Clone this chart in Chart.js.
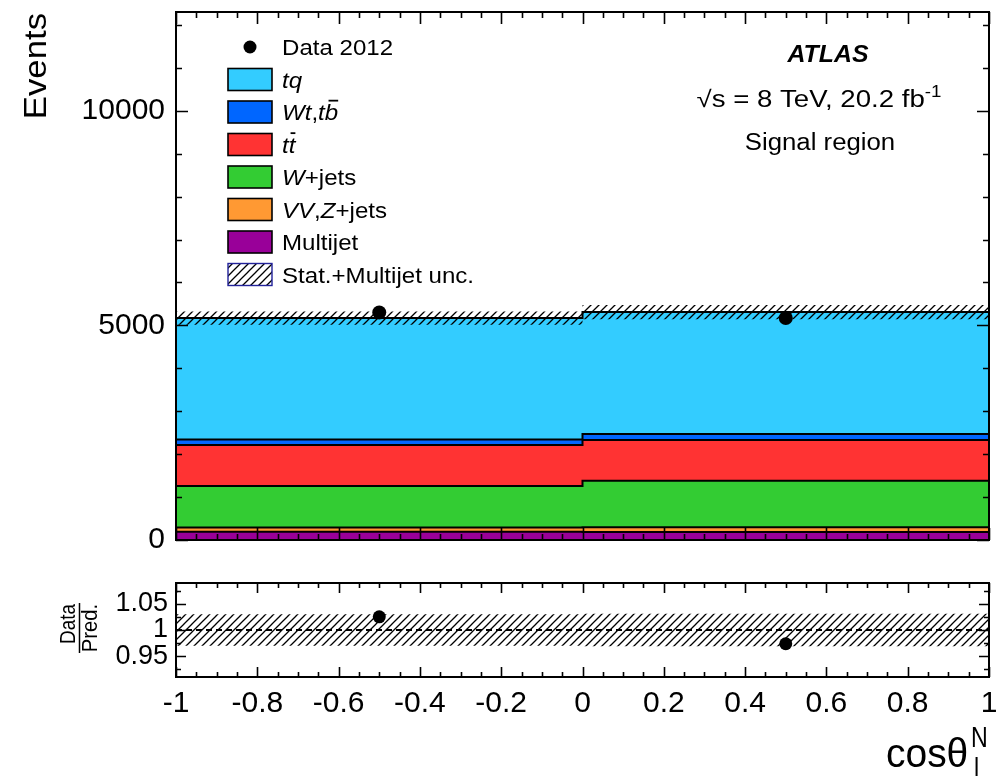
<!DOCTYPE html>
<html>
<head>
<meta charset="utf-8">
<script src="https://cdn.jsdelivr.net/npm/chart.js@4.4.1/dist/chart.umd.min.js"></script>
<style>
  html, body { margin: 0; padding: 0; background: #fff; }
  #wrap { position: relative; width: 998px; height: 776px; overflow: hidden; background: #fff; }
  #main { position: absolute; left: 0; top: 0; }
  #ratio { position: absolute; left: 0; top: 560px; }
</style>
</head>
<body>
<div id="wrap">
  <canvas id="main" width="998" height="560"></canvas>
  <canvas id="ratio" width="998" height="216"></canvas>
</div>
<script>
// ---- histogram contents: two bins in cos(theta_l^N) ----
const binEdges = [-1, 0, 1];
const multijet = [195, 185];
const vvZjets  = [95, 110];
const wjets    = [970, 1085];
const ttbar    = [955, 950];
const wtTb     = [125, 140];
const tq       = [2830, 2840];
const data2012 = [5300, 5170];
const totalUnc = [155, 165];          // stat. + multijet uncertainty on the prediction (events)

// ---- axis tick values ----
const eventTicks = [0, 5000, 10000];
const ratioTicks = [0.95, 1, 1.05];
const xTicks = [-1, -0.8, -0.6, -0.4, -0.2, 0, 0.2, 0.4, 0.6, 0.8, 1];

const FONT = '"Liberation Sans", Arial, Helvetica, sans-serif';

// stacked components, bottom to top
const components = [
  { label: 'Multijet',  values: multijet, color: '#990099' },
  { label: 'VV,Z+jets', values: vvZjets,  color: '#ff9933' },
  { label: 'W+jets',    values: wjets,    color: '#33cc33' },
  { label: 'ttbar',     values: ttbar,    color: '#ff3333' },
  { label: 'Wt,tb',     values: wtTb,     color: '#0066ff' },
  { label: 'tq',        values: tq,       color: '#33ccff' }
];

const nBins = binEdges.length - 1;
const centers = [];
for (let i = 0; i < nBins; i++) centers.push((binEdges[i] + binEdges[i + 1]) / 2);

// running sums give the top edge of each stacked component
const cumulative = [];
let running = new Array(nBins).fill(0);
components.forEach(c => {
  running = running.map((v, i) => v + c.values[i]);
  cumulative.push(running.slice());
});
const prediction = cumulative[cumulative.length - 1];

// step outline of a histogram: one point per lower bin edge plus the last edge;
// drawn with stepped 'before' so each level holds until the next edge
function stepPoints(vals) {
  const pts = [];
  for (let i = 0; i < nBins; i++) pts.push({ x: binEdges[i], y: vals[i] });
  pts.push({ x: binEdges[nBins], y: vals[nBins - 1] });
  return pts;
}
const STEP = 'before';

function hatchPattern(ctx, step, lw) {
  const c = document.createElement('canvas');
  c.width = step; c.height = step;
  const g = c.getContext('2d');
  g.strokeStyle = '#000';
  g.lineWidth = lw;
  g.beginPath();
  g.moveTo(-1, step + 1); g.lineTo(step + 1, -1);
  g.moveTo(-step / 2 - 1, step / 2 + 1); g.lineTo(step / 2 + 1, -step / 2 - 1);
  g.moveTo(step / 2 - 1, step * 1.5 + 1); g.lineTo(step * 1.5 + 1, step / 2 - 1);
  g.stroke();
  return ctx.createPattern(c, 'repeat');
}

// rich text: parts = [{t, f, over, sup}]
function drawParts(ctx, parts, x, y, o) {
  const size = o.size, sx = o.sx || 1;
  ctx.save();
  ctx.fillStyle = '#000';
  ctx.strokeStyle = '#000';
  ctx.textBaseline = 'alphabetic';
  ctx.textAlign = 'left';
  const widths = [];
  let w = 0;
  parts.forEach(p => {
    const fs = p.sup ? size * 0.68 : size;
    ctx.font = `${p.f || ''} ${fs}px ${FONT}`;
    const m = ctx.measureText(p.t).width;
    widths.push(m); w += m;
  });
  let x0 = x;
  if (o.align === 'center') x0 = x - w * sx / 2;
  else if (o.align === 'right') x0 = x - w * sx;
  ctx.translate(x0, y);
  ctx.scale(sx, 1);
  let cx = 0;
  parts.forEach((p, i) => {
    const fs = p.sup ? size * 0.68 : size;
    ctx.font = `${p.f || ''} ${fs}px ${FONT}`;
    const dy = p.sup ? -size * 0.42 : 0;
    ctx.fillText(p.t, cx, dy);
    if (p.over) {
      ctx.lineWidth = size * 0.08;
      ctx.beginPath();
      ctx.moveTo(cx + widths[i] * 0.28, -size * 0.86);
      ctx.lineTo(cx + widths[i] * 1.0, -size * 0.86);
      ctx.stroke();
    }
    cx += widths[i];
  });
  ctx.restore();
}

// rotated text reading bottom-to-top; (x, y) is the baseline anchor
function drawVertical(ctx, text, x, y, size, along, align) {
  ctx.save();
  ctx.fillStyle = '#000';
  ctx.font = `${size}px ${FONT}`;
  ctx.translate(x, y);
  ctx.rotate(-Math.PI / 2);
  ctx.scale(along, 1);
  ctx.textAlign = align;
  ctx.textBaseline = 'alphabetic';
  ctx.fillText(text, 0, 0);
  ctx.restore();
}

// frame plus inward ticks on all four sides
function framePlugin(cfg) {
  return {
    id: 'frameTicks',
    afterDatasetsDraw(chart) {
      const { ctx, chartArea: a, scales } = chart;
      const xs = scales.x, ys = scales.y;
      ctx.save();
      ctx.strokeStyle = '#000';
      ctx.lineWidth = 1.6;
      ctx.beginPath();
      const tick = (vals, len, axis) => {
        vals.forEach(v => {
          if (axis === 'x') {
            const px = Math.round(xs.getPixelForValue(v)) + 0.5;
            ctx.moveTo(px, a.bottom); ctx.lineTo(px, a.bottom - len);
            ctx.moveTo(px, a.top); ctx.lineTo(px, a.top + len);
          } else {
            const py = Math.round(ys.getPixelForValue(v)) + 0.5;
            ctx.moveTo(a.left, py); ctx.lineTo(a.left + len, py);
            ctx.moveTo(a.right, py); ctx.lineTo(a.right - len, py);
          }
        });
      };
      const minorVals = (min, max, step) => {
        const out = [];
        const n = Math.round((max - min) / step);
        for (let k = 0; k <= n; k++) out.push(min + k * step);
        return out;
      };
      tick(minorVals(cfg.xMin, cfg.xMax, cfg.xMinor), cfg.xMinorLen, 'x');
      tick(cfg.xMajor, cfg.xMajorLen, 'x');
      tick(minorVals(cfg.yMinorStart, cfg.yMinorEnd, cfg.yMinor), cfg.yMinorLen, 'y');
      tick(cfg.yMajor, cfg.yMajorLen, 'y');
      ctx.stroke();
      ctx.lineWidth = 2;
      ctx.strokeRect(a.left, a.top, a.right - a.left, a.bottom - a.top);
      ctx.restore();
    }
  };
}

// fixed-width vertical axis that does not reserve room for overhanging labels
function fixedYFit(s) {
  s.width = 176;
  s.paddingTop = 0;
  s.paddingBottom = 0;
}
const hiddenGrid = { display: false, drawTicks: false, tickLength: 0 };

// ---------------- main panel ----------------
const mainCtx = document.getElementById('main').getContext('2d');
const mainHatch = hatchPattern(mainCtx, 8, 1.3);

const mainDatasets = [];
components.forEach((c, i) => {
  mainDatasets.push({
    type: 'line',
    label: c.label,
    data: stepPoints(cumulative[i]),
    stepped: STEP,
    borderColor: '#000',
    borderWidth: 2,
    backgroundColor: c.color,
    pointRadius: 0,
    fill: i === 0 ? 'origin' : i - 1,
    order: 10 + i
  });
});
const bandLowIndex = mainDatasets.length;
mainDatasets.push({
  type: 'line', label: 'unc-low',
  data: stepPoints(prediction.map((p, i) => p - totalUnc[i])),
  stepped: STEP, borderWidth: 0, borderColor: 'rgba(0,0,0,0)', pointRadius: 0,
  fill: false, order: 3
});
mainDatasets.push({
  type: 'line', label: 'Stat.+Multijet unc.',
  data: stepPoints(prediction.map((p, i) => p + totalUnc[i])),
  stepped: STEP, borderWidth: 0, borderColor: 'rgba(0,0,0,0)', pointRadius: 0,
  backgroundColor: mainHatch, fill: bandLowIndex, order: 2
});
mainDatasets.push({
  type: 'line', label: 'Data 2012',
  data: centers.map((x, i) => ({ x, y: data2012[i] })),
  showLine: false, pointRadius: 7, pointBackgroundColor: '#000', pointBorderWidth: 0,
  order: 0
});

const legendEntries = [
  { kind: 'marker', parts: [{ t: 'Data 2012' }] },
  { kind: 'box', color: components[5].color, parts: [{ t: 'tq', f: 'italic' }] },
  { kind: 'box', color: components[4].color, parts: [{ t: 'Wt', f: 'italic' }, { t: ',' }, { t: 't', f: 'italic' }, { t: 'b', f: 'italic', over: true }] },
  { kind: 'box', color: components[3].color, parts: [{ t: 't', f: 'italic' }, { t: 't', f: 'italic', over: true }] },
  { kind: 'box', color: components[2].color, parts: [{ t: 'W', f: 'italic' }, { t: '+jets' }] },
  { kind: 'box', color: components[1].color, parts: [{ t: 'VV', f: 'italic' }, { t: ',' }, { t: 'Z', f: 'italic' }, { t: '+jets' }] },
  { kind: 'box', color: components[0].color, parts: [{ t: 'Multijet' }] },
  { kind: 'hatch', parts: [{ t: 'Stat.+Multijet unc.' }] }
];

const mainDecor = {
  id: 'mainDecor',
  afterDraw(chart) {
    const ctx = chart.ctx;
    // legend
    const rowY0 = 47, rowDy = 32.5;
    legendEntries.forEach((e, i) => {
      const cy = rowY0 + i * rowDy;
      ctx.save();
      if (e.kind === 'marker') {
        ctx.fillStyle = '#000';
        ctx.beginPath(); ctx.arc(250, cy, 6.5, 0, Math.PI * 2); ctx.fill();
      } else if (e.kind === 'box') {
        ctx.fillStyle = e.color;
        ctx.fillRect(228, cy - 11, 44, 22);
        ctx.strokeStyle = '#000'; ctx.lineWidth = 1.6;
        ctx.strokeRect(228, cy - 11, 44, 22);
      } else {
        ctx.fillStyle = mainHatch;
        ctx.fillRect(228, cy - 11, 44, 22);
        ctx.strokeStyle = '#22229a'; ctx.lineWidth = 1.4;
        ctx.strokeRect(228, cy - 11, 44, 22);
      }
      ctx.restore();
      drawParts(ctx, e.parts, 282, cy + 8, { size: 22.5, sx: 1.07 });
    });
    // labels in the upper right
    drawParts(ctx, [{ t: 'ATLAS', f: 'italic bold' }], 828, 62, { size: 23, align: 'center', sx: 1.08 });
    drawParts(ctx, [{ t: '\u221As = 8 TeV, 20.2 fb' }, { t: '-1', sup: true }], 819, 107, { size: 23, align: 'center', sx: 1.2 });
    drawParts(ctx, [{ t: 'Signal region' }], 820, 150, { size: 23, align: 'center', sx: 1.12 });
    // y-axis title
    drawVertical(ctx, 'Events', 46, 13, 31, 1.12, 'right');
  }
};

new Chart(mainCtx, {
  type: 'line',
  data: { datasets: mainDatasets },
  options: {
    responsive: false,
    animation: false,
    devicePixelRatio: 1,
    layout: { padding: { left: 0, right: 9, top: 12, bottom: 20 } },
    plugins: {
      legend: { display: false },
      tooltip: { enabled: false },
      filler: { drawTime: 'beforeDatasetsDraw' }
    },
    scales: {
      x: { type: 'linear', min: -1, max: 1, display: false },
      y: {
        type: 'linear', min: 0, max: 12300,
        grid: hiddenGrid, border: { display: false },
        afterFit: fixedYFit,
        afterBuildTicks(s) { s.ticks = eventTicks.map(v => ({ value: v })); },
        ticks: { color: '#000', padding: 11, font: { family: FONT, size: 30 }, callback: v => String(v) }
      }
    }
  },
  plugins: [mainDecor, framePlugin({
    xMin: -1, xMax: 1, xMinor: 0.05, xMajor: xTicks, xMinorLen: 6, xMajorLen: 12,
    yMinorStart: 0, yMinorEnd: 12000, yMinor: 1000, yMajor: eventTicks, yMinorLen: 6, yMajorLen: 12
  })]
});

// ---------------- ratio panel ----------------
const ratioCtx = document.getElementById('ratio').getContext('2d');
const ratioHatch = hatchPattern(ratioCtx, 8, 1.3);
const relUnc = prediction.map((p, i) => totalUnc[i] / p);
const ratioValues = data2012.map((d, i) => d / prediction[i]);

const ratioDatasets = [
  {
    type: 'line', label: 'unc-low',
    data: stepPoints(relUnc.map(r => 1 - r)),
    stepped: STEP, borderWidth: 0, borderColor: 'rgba(0,0,0,0)', pointRadius: 0,
    fill: false, order: 4
  },
  {
    type: 'line', label: 'unc-high',
    data: stepPoints(relUnc.map(r => 1 + r)),
    stepped: STEP, borderWidth: 0, borderColor: 'rgba(0,0,0,0)', pointRadius: 0,
    backgroundColor: ratioHatch, fill: 0, order: 3
  },
  {
    type: 'line', label: 'unity',
    data: [{ x: binEdges[0], y: 1 }, { x: binEdges[nBins], y: 1 }],
    borderColor: '#000', borderWidth: 2, borderDash: [6, 4], pointRadius: 0, fill: false, order: 1
  },
  {
    type: 'line', label: 'Data/Pred.',
    data: centers.map((x, i) => ({ x, y: ratioValues[i] })),
    showLine: false, pointRadius: 6.5, pointBackgroundColor: '#000', pointBorderWidth: 0, order: 0
  }
];

const ratioDecor = {
  id: 'ratioDecor',
  afterDraw(chart) {
    const ctx = chart.ctx;
    // Data / Pred. fraction, rotated (canvas starts at page y = 560)
    drawVertical(ctx, 'Data', 75, 624 - 560, 22, 0.86, 'center');
    ctx.save();
    ctx.strokeStyle = '#000'; ctx.lineWidth = 1.5;
    ctx.beginPath(); ctx.moveTo(79.5, 603 - 560); ctx.lineTo(79.5, 653 - 560); ctx.stroke();
    ctx.restore();
    drawVertical(ctx, 'Pred.', 97, 628 - 560, 22, 0.92, 'center');
    // x-axis title
    drawParts(ctx, [{ t: 'cos\u03B8' }], 886, 767 - 560, { size: 41, sx: 0.95 });
    drawParts(ctx, [{ t: 'N' }], 971, 747 - 560, { size: 29, sx: 0.8 });
    drawParts(ctx, [{ t: 'l' }], 974, 779 - 560, { size: 29, sx: 0.8 });
  }
};

new Chart(ratioCtx, {
  type: 'line',
  data: { datasets: ratioDatasets },
  options: {
    responsive: false,
    animation: false,
    devicePixelRatio: 1,
    layout: { padding: { left: 0, right: 9, top: 23, bottom: 0 } },
    plugins: {
      legend: { display: false },
      tooltip: { enabled: false },
      filler: { drawTime: 'beforeDatasetsDraw' }
    },
    scales: {
      x: {
        type: 'linear', min: -1, max: 1,
        grid: hiddenGrid, border: { display: false },
        afterFit(s) { s.height = 99; s.paddingLeft = 0; s.paddingRight = 0; },
        afterBuildTicks(s) { s.ticks = xTicks.map(v => ({ value: v })); },
        ticks: { color: '#000', padding: 9, autoSkip: false, maxRotation: 0, font: { family: FONT, size: 30 }, callback: v => String(v) }
      },
      y: {
        type: 'linear', min: 0.91, max: 1.09,
        grid: hiddenGrid, border: { display: false },
        afterFit: fixedYFit,
        afterBuildTicks(s) { s.ticks = ratioTicks.map(v => ({ value: v })); },
        ticks: { color: '#000', padding: 8, font: { family: FONT, size: 27 }, callback: v => String(v) }
      }
    }
  },
  plugins: [ratioDecor, framePlugin({
    xMin: -1, xMax: 1, xMinor: 0.05, xMajor: xTicks, xMinorLen: 5, xMajorLen: 10,
    yMinorStart: 0.925, yMinorEnd: 1.075, yMinor: 0.025, yMajor: ratioTicks, yMinorLen: 5, yMajorLen: 10
  })]
});
</script>
</body>
</html>
